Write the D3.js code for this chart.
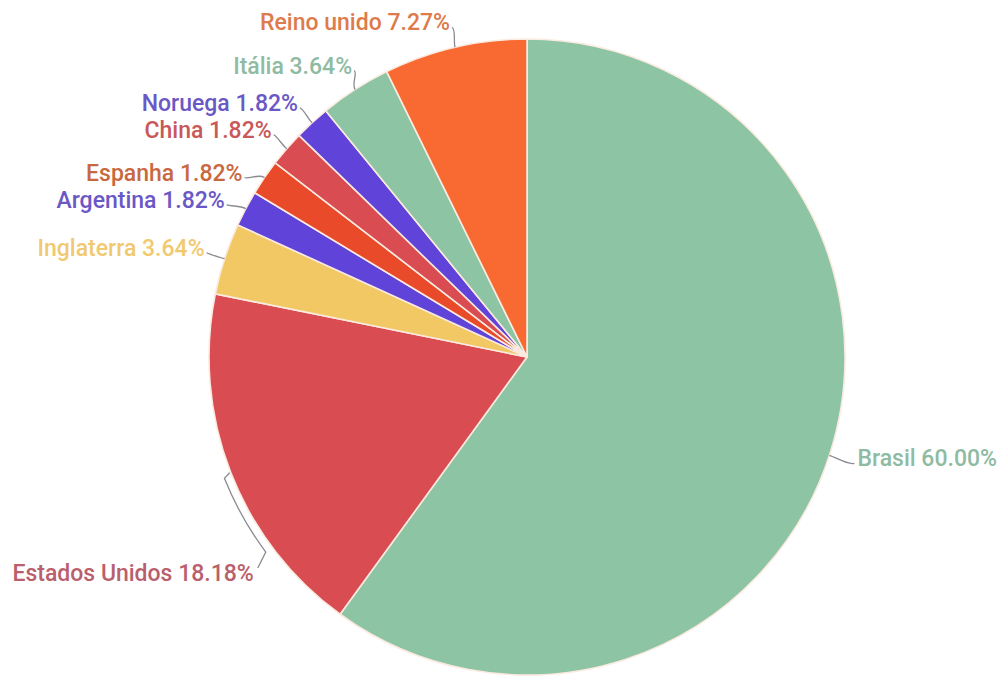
<!DOCTYPE html>
<html>
<head>
<meta charset="utf-8">
<script src="https://cdn.jsdelivr.net/npm/d3@7"></script>
<style>
  html, body { margin: 0; padding: 0; background: #ffffff; }
  svg { display: block; }
  text { font-family: Roboto, "Noto Sans", sans-serif; font-weight: 500; }
</style>
</head>
<body>
<svg id="chart" width="998" height="676"></svg>
<script>
// Share of mentions by country
const countries = ["Brasil", "Estados Unidos", "Inglaterra", "Argentina", "Espanha", "China", "Noruega", "Itália", "Reino unido"];
const counts = [33, 10, 2, 1, 1, 1, 1, 2, 4];
const sliceColors = ["#8cc4a4", "#d84c52", "#f1c863", "#6044d9", "#e84a2a", "#d84c52", "#6044d9", "#8cc4a4", "#f86a31"];
const labelColors = ["#8fbba3", "#b9606c", "#f0c970", "#6a58c6", "#c9683f", "#c9585a", "#6a58c6", "#8fbba3", "#de7a4b"];

// label placement: offset of the label anchor from the slice's outer edge
const labelOffsets = [[27, 3], [0, 0], [-20, -11], [-21, -9], [-22, -5], [-15, -19], [-14, -20], [-3, -24], [-5, -25]];

const width = 998, height = 676;
const cx = 527, cy = 357, radius = 318;

const svg = d3.select("#chart");
const g = svg.append("g").attr("transform", `translate(${cx},${cy})`);

const data = countries.map((c, i) => ({ name: c, value: counts[i], i }));
const total = d3.sum(counts);

const pie = d3.pie().value(d => d.value).sort(null);
const arcs = pie(data);
const arc = d3.arc().innerRadius(0).outerRadius(radius);

g.selectAll("path.slice")
  .data(arcs)
  .join("path")
  .attr("class", "slice")
  .attr("d", arc)
  .attr("fill", d => sliceColors[d.data.i])
  .attr("stroke", "#fbeadf")
  .attr("stroke-width", 1.6)
  .attr("stroke-linejoin", "round");

function polar(angle, r) {
  return [Math.sin(angle) * r, -Math.cos(angle) * r];
}

const fmt = v => (v / total * 100).toFixed(2) + "%";

arcs.forEach(a => {
  const i = a.data.i;
  const mid = (a.startAngle + a.endAngle) / 2;
  const edge = polar(mid, radius);
  const out = polar(mid, radius + 7);
  const label = a.data.name + " " + fmt(a.data.value);
  const right = Math.sin(mid) > 0;
  let tx, ty, pathD;

  if (i === 1) {
    // long leader that hugs the rim down to the label
    const r2 = radius + 8;
    const endAng = mid - 0.27;
    const p0 = polar(mid, radius + 1);
    const p1 = polar(mid - 0.01, r2);
    const p2 = polar(endAng, r2);
    tx = p2[0] - 12; ty = p2[1] + 21;
    const p = d3.path();
    p.moveTo(p0[0], p0[1]);
    p.lineTo(p1[0], p1[1]);
    p.arc(0, 0, r2, (mid - 0.01) - Math.PI / 2, endAng - Math.PI / 2, true);
    p.lineTo(tx + 4, ty - 5);
    pathD = p.toString();
  } else {
    const off = labelOffsets[i];
    tx = edge[0] + off[0];
    ty = edge[1] + off[1];
    const lx = right ? tx - 2 : tx + 2;
    const ly = ty + 5;
    pathD = `M${edge[0]},${edge[1]} C${out[0]},${out[1]} ${lx + (right ? -6 : 4)},${ly + 2} ${lx},${ly}`;
  }

  g.append("path")
    .attr("d", pathD)
    .attr("fill", "none")
    .attr("stroke", "#8a8a90")
    .attr("stroke-width", 1.3);

  g.append("text")
    .attr("x", right ? tx + 1 : tx)
    .attr("y", ty)
    .attr("dy", "0.35em")
    .attr("text-anchor", right ? "start" : "end")
    .attr("fill", labelColors[i])
    .attr("font-size", 23)
    .text(label);
});
</script>
</body>
</html>
